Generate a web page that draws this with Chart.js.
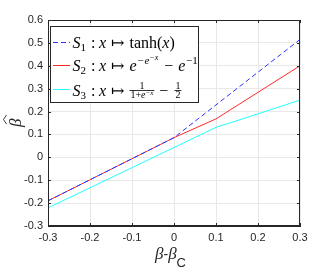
<!DOCTYPE html>
<html>
<head>
<meta charset="utf-8">
<script src="https://cdn.jsdelivr.net/npm/chart.js@4.4.1/dist/chart.umd.min.js"></script>
<style>
  html, body { margin: 0; padding: 0; background: #fff; }
  #wrap { width: 332px; height: 273px; }
</style>
</head>
<body>
<div id="wrap"><canvas id="myChart"></canvas></div>
<script>
// beta - beta_c
const xs = [-0.3, -0.2, -0.1, 0, 0.1, 0.2, 0.3];
// beta hat for the three choices of S
const s1 = [-0.19, -0.098, -0.006, 0.086, 0.229, 0.372, 0.515];
const s2 = [-0.19, -0.098, -0.006, 0.086, 0.168, 0.284, 0.40];
const s3 = [-0.221, -0.133, -0.045, 0.043, 0.131, 0.19, 0.25];

const xTicks = [-0.3, -0.2, -0.1, 0, 0.1, 0.2, 0.3];
const xTickLabels = ['-0.3', '-0.2', '-0.1', '0', '0.1', '0.2', '0.3'];
const yTicks = [-0.3, -0.2, -0.1, 0, 0.1, 0.2, 0.3, 0.4, 0.5, 0.6];
const yTickLabels = ['-0.3', '-0.2', '-0.1', '0', '0.1', '0.2', '0.3', '0.4', '0.5', '0.6'];

const AX = '#262626';
const SERIF = '"Liberation Serif", "DejaVu Serif", serif';
const SANS = '"Liberation Sans", Arial, sans-serif';

const pts = (ys) => xs.map((x, i) => ({x: x, y: ys[i]}));

// draws a list of text pieces left to right, returns end x
function rich(ctx, x, y, parts, dflt) {
  for (const p of parts) {
    ctx.font = (p.it ? 'italic ' : '') + (p.size || dflt || 16) + 'px ' + (p.font || SERIF);
    ctx.fillText(p.t, x, y + (p.dy || 0));
    x += ctx.measureText(p.t).width + (p.gap || 0);
  }
  return x;
}

function width(ctx, parts, dflt) {
  let w = 0;
  for (const p of parts) {
    ctx.font = (p.it ? 'italic ' : '') + (p.size || dflt) + 'px ' + (p.font || SERIF);
    w += ctx.measureText(p.t).width + (p.gap || 0);
  }
  return w;
}

// bar at y, numerator above, denominator below
function frac(ctx, x, y, num, den, size) {
  const wn = width(ctx, num, size), wd = width(ctx, den, size);
  const w = Math.max(wn, wd) + 2;
  rich(ctx, x + (w - wn) / 2, y - 1.5, num, size);
  rich(ctx, x + (w - wd) / 2, y + 8, den, size);
  ctx.fillRect(x, y, w, 0.8);
  return x + w;
}

const decor = {
  id: 'decor',
  afterDraw(chart) {
    const {ctx, chartArea: a} = chart;
    const sx = chart.scales.x, sy = chart.scales.y;
    ctx.save();
    // box
    ctx.strokeStyle = AX;
    ctx.lineWidth = 1;
    ctx.strokeRect(a.left + 0.5, a.top + 0.5, a.right - a.left - 1, a.bottom - a.top - 1);
    // inward ticks on all sides
    ctx.beginPath();
    xTicks.forEach(v => {
      const px = Math.round(sx.getPixelForValue(v)) + 0.5;
      ctx.moveTo(px, a.bottom); ctx.lineTo(px, a.bottom - 3);
      ctx.moveTo(px, a.top); ctx.lineTo(px, a.top + 3);
    });
    yTicks.forEach(v => {
      const py = Math.round(sy.getPixelForValue(v)) + 0.5;
      ctx.moveTo(a.left, py); ctx.lineTo(a.left + 3, py);
      ctx.moveTo(a.right, py); ctx.lineTo(a.right - 3, py);
    });
    ctx.stroke();

    // legend
    const lx = 50.5, ly = 26.5, lw = 148, lh = 76;
    ctx.fillStyle = '#fff';
    ctx.fillRect(lx, ly, lw, lh);
    ctx.strokeStyle = AX;
    ctx.strokeRect(lx, ly, lw, lh);
    const rows = [42, 65, 89];
    const ds = chart.data.datasets;
    rows.forEach((ry, i) => {
      ctx.strokeStyle = ds[i].borderColor;
      ctx.lineWidth = 1;
      ctx.setLineDash(ds[i].borderDash || []);
      ctx.beginPath();
      ctx.moveTo(53, ry + 0.5); ctx.lineTo(70, ry + 0.5);
      ctx.stroke();
      ctx.setLineDash([]);
    });
    ctx.fillStyle = '#000';
    ctx.textBaseline = 'alphabetic';
    ctx.textAlign = 'left';
    const head = (n) => [
      {t: 'S', it: true},
      {t: n, size: 11, dy: 3, gap: 5},
      {t: ':', gap: 3.5},
      {t: 'x', it: true, gap: 5},
      {t: '\u21A6', gap: 5}
    ];
    let x = rich(ctx, 72.5, rows[0] + 6, head('1'));
    rich(ctx, x, rows[0] + 6, [{t: 'tanh('}, {t: 'x', it: true}, {t: ')'}]);
    x = rich(ctx, 72.5, rows[1] + 6, head('2'));
    rich(ctx, x, rows[1] + 6, [
      {t: 'e', it: true, gap: 0.5},
      {t: '\u2212e', it: true, size: 11, dy: -7},
      {t: '\u2212x', it: true, size: 8, dy: -11, gap: 6},
      {t: '\u2212', gap: 5},
      {t: 'e', it: true, gap: 0.5},
      {t: '\u22121', size: 11, dy: -7}
    ]);
    x = rich(ctx, 72.5, rows[2] + 6.5, head('3'));
    x = frac(ctx, x, rows[2] + 1, [{t: '1'}],
             [{t: '1+'}, {t: 'e', it: true}, {t: '\u2212x', it: true, size: 7, dy: -3}], 10);
    x = rich(ctx, x + 5, rows[2] + 6.5, [{t: '\u2212', gap: 6}]);
    frac(ctx, x, rows[2] + 1, [{t: '1'}], [{t: '2'}], 10);

    // axis titles
    ctx.fillStyle = AX;
    rich(ctx, 155, 259, [
      {t: '\u03B2', it: true, size: 17},
      {t: '-', size: 14, font: SANS},
      {t: '\u03B2', it: true, size: 17},
      {t: 'C', size: 13, font: SANS, dy: 8}
    ]);
    ctx.translate(21, 127);
    ctx.rotate(-Math.PI / 2);
    rich(ctx, 0, 0, [{t: '\u03B2', it: true, size: 17}]);
    // hat
    ctx.strokeStyle = AX;
    ctx.lineWidth = 0.9;
    ctx.beginPath();
    ctx.moveTo(3, -14.5); ctx.lineTo(7.5, -17.5); ctx.lineTo(12, -14.5);
    ctx.stroke();
    ctx.restore();
  }
};

const ctx = document.getElementById('myChart');
const config = {
  type: 'scatter',
  data: {
    datasets: [
      {label: 'S1', data: pts(s1), borderColor: '#3030ff', borderDash: [5, 3]},
      {label: 'S2', data: pts(s2), borderColor: '#ff2a2a'},
      {label: 'S3', data: pts(s3), borderColor: '#22ffff'}
    ].map(d => Object.assign({showLine: true, pointRadius: 0, borderWidth: 1, fill: false, tension: 0}, d))
  },
  options: {
    responsive: true,
    maintainAspectRatio: false,
    animation: false,
    layout: {padding: {left: 0, top: 20, right: 32, bottom: 0}},
    plugins: {legend: {display: false}, tooltip: {enabled: false}},
    scales: {
      x: {
        type: 'linear', min: -0.3, max: 0.3,
        afterBuildTicks: (s) => { s.ticks = xTicks.map(v => ({value: v})); },
        afterFit: (s) => { s.height = 47; },
        ticks: {
          padding: 5, color: AX, maxRotation: 0,
          font: {family: SANS, size: 11},
          callback: (v) => xTickLabels[xTicks.findIndex(t => Math.abs(t - v) < 1e-9)]
        },
        grid: {color: '#e8e8e8', drawTicks: false},
        border: {color: AX}
      },
      y: {
        type: 'linear', min: -0.3, max: 0.6,
        afterBuildTicks: (s) => { s.ticks = yTicks.map(v => ({value: v})); },
        afterFit: (s) => { s.width = 48; },
        ticks: {
          padding: 5, color: AX,
          font: {family: SANS, size: 11},
          callback: (v) => yTickLabels[yTicks.findIndex(t => Math.abs(t - v) < 1e-9)]
        },
        grid: {color: '#e8e8e8', drawTicks: false},
        border: {color: AX}
      }
    }
  },
  plugins: [decor]
};
const chart = new Chart(ctx, config);
</script>
</body>
</html>
